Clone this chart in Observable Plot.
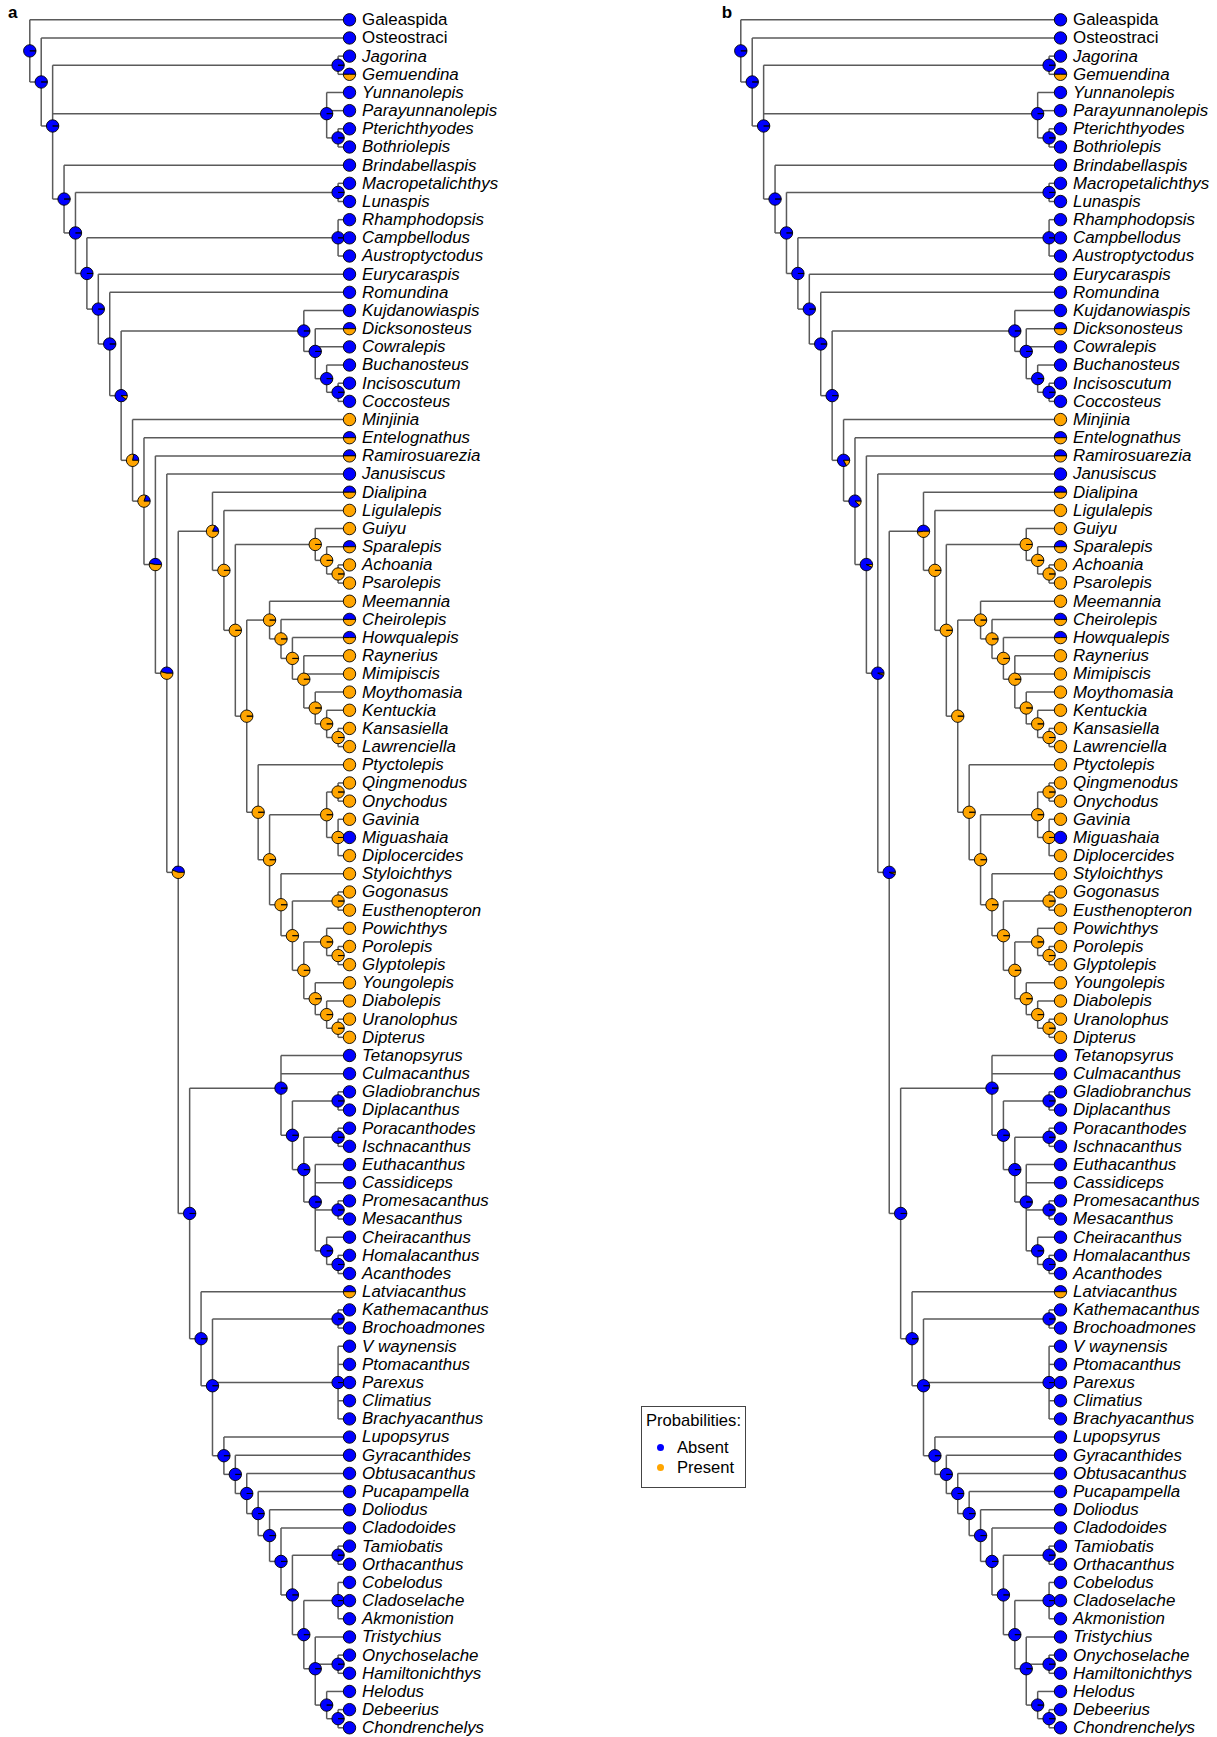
<!DOCTYPE html>
<html>
<head>
<meta charset="utf-8">
<script src="https://cdn.jsdelivr.net/npm/d3@7"></script>
<script src="https://cdn.jsdelivr.net/npm/@observablehq/plot@0.6"></script>
<style>
  body { margin: 0; background: #fff; }
  #wrap { position: relative; width: 1217px; height: 1737px; font-family: "Liberation Sans", Arial, Helvetica, sans-serif; }
  #legend { position: absolute; left: 641px; top: 1406px; width: 103px; height: 80px; border: 1.5px solid #444; background: #fff; }
  #legend .t { position: absolute; font-size: 16.6px; line-height: 16.6px; white-space: nowrap; color: #000; }
  #legend .d { position: absolute; width: 7px; height: 7px; border-radius: 50%; }
</style>
</head>
<body>
<div id="wrap"></div>
<script>
// ---------- DATA ----------
const panels = ["a", "b"];
const stateNames = ["Absent", "Present"];
const stateColors = ["blue", "orange"];
const legendTitle = "Probabilities:";

const tipNames = [
  "Galeaspida","Osteostraci","Jagorina","Gemuendina","Yunnanolepis","Parayunnanolepis","Pterichthyodes","Bothriolepis",
  "Brindabellaspis","Macropetalichthys","Lunaspis","Rhamphodopsis","Campbellodus","Austroptyctodus","Eurycaraspis","Romundina",
  "Kujdanowiaspis","Dicksonosteus","Cowralepis","Buchanosteus","Incisoscutum","Coccosteus","Minjinia","Entelognathus",
  "Ramirosuarezia","Janusiscus","Dialipina","Ligulalepis","Guiyu","Sparalepis","Achoania","Psarolepis",
  "Meemannia","Cheirolepis","Howqualepis","Raynerius","Mimipiscis","Moythomasia","Kentuckia","Kansasiella",
  "Lawrenciella","Ptyctolepis","Qingmenodus","Onychodus","Gavinia","Miguashaia","Diplocercides","Styloichthys",
  "Gogonasus","Eusthenopteron","Powichthys","Porolepis","Glyptolepis","Youngolepis","Diabolepis","Uranolophus",
  "Dipterus","Tetanopsyrus","Culmacanthus","Gladiobranchus","Diplacanthus","Poracanthodes","Ischnacanthus","Euthacanthus",
  "Cassidiceps","Promesacanthus","Mesacanthus","Cheiracanthus","Homalacanthus","Acanthodes","Latviacanthus","Kathemacanthus",
  "Brochoadmones","V waynensis","Ptomacanthus","Parexus","Climatius","Brachyacanthus","Lupopsyrus","Gyracanthides",
  "Obtusacanthus","Pucapampella","Doliodus","Cladodoides","Tamiobatis","Orthacanthus","Cobelodus","Cladoselache",
  "Akmonistion","Tristychius","Onychoselache","Hamiltonichthys","Helodus","Debeerius","Chondrenchelys"
];
const uprightTips = ["Galeaspida", "Osteostraci"];

// probability of "Absent" (blue) at each tip, same order as tipNames
const tipProb = [
  1,1,1,0.5,1,1,1,1,
  1,1,1,1,1,1,1,1,
  1,0.5,1,1,1,1,0,0.5,
  0.5,1,0.5,0,0,0.5,0,0,
  0,0.5,0.5,0,0,0,0,0,
  0,0,0,0,0,1,0,0,
  0,0,0,0,0,0,0,0,
  0,1,1,1,1,1,1,1,
  1,1,1,1,1,1,0.5,1,
  1,1,1,1,1,1,1,1,
  1,1,1,1,1,1,1,1,
  1,1,1,1,1,1,1
];

// topology (Newick pieces)
const nwActinopterygii = "(Meemannia,(Cheirolepis,(Howqualepis,(Raynerius,Mimipiscis,(Moythomasia,(Kentuckia,(Kansasiella,Lawrenciella)))))))";
const nwCoelacanths = "((Qingmenodus,Onychodus),(Gavinia,Miguashaia,Diplocercides))";
const nwRhipidistia = "(Styloichthys,((Gogonasus,Eusthenopteron),((Powichthys,(Porolepis,Glyptolepis)),(Youngolepis,(Diabolepis,(Uranolophus,Dipterus))))))";
const nwOsteichthyes = "(Dialipina,(Ligulalepis,((Guiyu,(Sparalepis,(Achoania,Psarolepis))),(" + nwActinopterygii + ",(Ptyctolepis,(" + nwCoelacanths + "," + nwRhipidistia + "))))))";
const nwAcanthodii = "(Tetanopsyrus,Culmacanthus,((Gladiobranchus,Diplacanthus),((Poracanthodes,Ischnacanthus),(Euthacanthus,Cassidiceps,(Promesacanthus,Mesacanthus),(Cheiracanthus,(Homalacanthus,Acanthodes))))))";
const nwChondrichthyes = "(Latviacanthus,((Kathemacanthus,Brochoadmones),(V waynensis,Ptomacanthus,Parexus,Climatius,Brachyacanthus),(Lupopsyrus,(Gyracanthides,(Obtusacanthus,(Pucapampella,(Doliodus,(Cladodoides,((Tamiobatis,Orthacanthus),((Cobelodus,Cladoselache,Akmonistion),(Tristychius,(Onychoselache,Hamiltonichthys),(Helodus,(Debeerius,Chondrenchelys)))))))))))))";
const nwPlacoderms = "(Galeaspida,(Osteostraci,((Jagorina,Gemuendina),(Yunnanolepis,Parayunnanolepis,(Pterichthyodes,Bothriolepis)),(Brindabellaspis,((Macropetalichthys,Lunaspis),((Rhamphodopsis,Campbellodus,Austroptyctodus),(Eurycaraspis,(Romundina,((Kujdanowiaspis,(Dicksonosteus,Cowralepis,(Buchanosteus,(Incisoscutum,Coccosteus)))),(Minjinia,(Entelognathus,(Ramirosuarezia,(Janusiscus,(";
const topology = nwPlacoderms + nwOsteichthyes + ",(" + nwAcanthodii + "," + nwChondrichthyes + "))))))))))))))))";

// probability of "Absent" (blue) at internal nodes, preorder
const nodeProbA = [
  1,1,1,1,1,1,1,1,1,1,1,1,1,
  0.9,1,1,1,1,
  0.22,0.2,0.47,0.46,0.44,0.18,
  0,0,0,0,0,0,0,0,0,0,0,0,0,0,0,0,0,0,0,0,0,0,0,0,0,0,0,
  1,1,1,1,1,1,1,1,1,1,1,1,1,1,1,1,1,1,1,1,1,1,1,1,1,1,1,1
];
const nodeProbB = [
  1,1,1,1,1,1,1,1,1,1,1,1,1,
  1,1,1,1,1,
  0.83,0.88,0.93,0.95,0.95,0.52,
  0,0,0,0,0,0,0,0,0,0,0,0,0,0,0,0,0,0,0,0,0,0,0,0,0,0,0,
  1,1,1,1,1,1,1,1,1,1,1,1,1,1,1,1,1,1,1,1,1,1,1,1,1,1,1,1
];
const nodeProbs = {a: nodeProbA, b: nodeProbB};

// ---------- TREE LAYOUT ----------
function parseNewick(str) {
  const tokens = str.match(/[(),]|[^(),]+/g).map(t => t.trim()).filter(t => t.length);
  let pos = 0, pre = 0;
  function node() {
    if (tokens[pos] === "(") {
      pos++;
      const n = {children: [], pre: pre++};
      n.children.push(node());
      while (tokens[pos] === ",") { pos++; n.children.push(node()); }
      if (tokens[pos] !== ")") throw new Error("bad newick at " + pos);
      pos++;
      return n;
    }
    return {name: tokens[pos++]};
  }
  const root = node();
  return {root, nInternal: pre};
}
const {root, nInternal} = parseNewick(topology);

function measure(n) {
  if (!n.children) {
    n.y = tipNames.indexOf(n.name);
    if (n.y < 0) throw new Error("unknown tip " + n.name);
    n.h = 0;
    return;
  }
  n.children.forEach(measure);
  n.h = 1 + d3.max(n.children, c => c.h);
  n.y = d3.mean(n.children, c => c.y);
}
measure(root);
const maxH = root.h;
const allNodes = [];
(function walk(n) { n.x = maxH - n.h; allNodes.push(n); if (n.children) n.children.forEach(walk); })(root);

const edges = [], pieSlices = [], labels = [];
function slicesOf(p, isTip) {
  if (isTip && (p === 1 || p === 0)) return [{color: p === 1 ? stateColors[0] : stateColors[1], f0: null, f1: null}];
  const out = [];
  if (p > 0) out.push({color: stateColors[0], f0: 0, f1: p});
  if (p < 1) out.push({color: stateColors[1], f0: p, f1: 1});
  return out;
}
for (const tree of panels) {
  for (const n of allNodes) {
    const isTip = !n.children;
    if (!isTip) {
      const ys = n.children.map(c => c.y);
      edges.push({tree, x1: n.x, x2: n.x, y1: d3.min(ys), y2: d3.max(ys)});
      for (const c of n.children) edges.push({tree, x1: n.x, x2: c.x, y1: c.y, y2: c.y});
    }
    const p = isTip ? tipProb[n.y] : nodeProbs[tree][n.pre];
    for (const s of slicesOf(p, isTip)) pieSlices.push({tree, x: n.x, y: n.y, isTip, ...s});
    if (isTip) labels.push({tree, x: n.x, y: n.y, name: n.name, upright: uprightTips.includes(n.name)});
  }
}

function wedge(f0, f1) {
  return {
    draw(ctx, size) {
      const r = Math.sqrt(size / Math.PI);
      ctx.moveTo(0, 0);
      ctx.arc(0, 0, r, -f0 * 2 * Math.PI, -f1 * 2 * Math.PI, true);
      ctx.closePath();
    }
  };
}

const pieR = 6.2;
const groups = d3.groups(pieSlices, d => `${d.isTip ? 1 : 0}|${d.color}|${d.f0}|${d.f1}`)
  .sort((a, b) => d3.ascending(a[0], b[0]));
const pieMarks = groups.map(([key, rows]) => {
  const d = rows[0];
  return Plot.dot(rows, {
    fx: "tree", x: "x", y: "y", r: pieR,
    fill: d.color, stroke: "black", strokeWidth: 0.9,
    symbol: d.f0 === null ? "circle" : wedge(d.f0, d.f1)
  });
});

const font = "'Liberation Sans', Arial, Helvetica, sans-serif";
const labelSize = 16.9;
const chart = Plot.plot({
  width: 1217,
  height: 1737,
  margin: 0,
  style: {background: "white", fontFamily: font},
  fx: {domain: panels, range: [0, 1422], padding: 0, axis: null, label: null},
  x: {domain: [0, maxH], range: [29.3, 349], axis: null},
  y: {domain: [0, tipNames.length - 1], range: [19.3, 1727.3], axis: null},
  marks: [
    Plot.link(edges, {fx: "tree", x1: "x1", y1: "y1", x2: "x2", y2: "y2", stroke: "#5a5a5a", strokeWidth: 1.5}),
    ...pieMarks,
    Plot.text(labels.filter(d => d.upright), {fx: "tree", x: "x", y: "y", text: "name", dx: 12.5, textAnchor: "start", fontSize: labelSize, fontFamily: font, fill: "black"}),
    Plot.text(labels.filter(d => !d.upright), {fx: "tree", x: "x", y: "y", text: "name", dx: 12.5, textAnchor: "start", fontSize: labelSize, fontFamily: font, fontStyle: "italic", fill: "black"}),
    Plot.text([{tree: "a"}], {fx: "tree", text: d => d.tree, frameAnchor: "top-left", dx: 7.5, dy: 17, textAnchor: "start", lineAnchor: "bottom", fontWeight: "bold", fontSize: 17, fontFamily: font}),
    Plot.text([{tree: "b"}], {fx: "tree", text: d => d.tree, frameAnchor: "top-left", dx: 10.3, dy: 17, textAnchor: "start", lineAnchor: "bottom", fontWeight: "bold", fontSize: 17, fontFamily: font})
  ]
});
const wrap = document.getElementById("wrap");
wrap.appendChild(chart);

// ---------- LEGEND ----------
const legend = document.createElement("div");
legend.id = "legend";
const title = document.createElement("div");
title.className = "t";
title.textContent = legendTitle;
title.style.left = "4px";
title.style.top = "6px";
legend.appendChild(title);
stateNames.forEach((name, i) => {
  const dot = document.createElement("div");
  dot.className = "d";
  dot.style.background = stateColors[i];
  dot.style.left = "14.5px";
  dot.style.top = (36.5 + i * 20.5) + "px";
  legend.appendChild(dot);
  const t = document.createElement("div");
  t.className = "t";
  t.textContent = name;
  t.style.left = "35px";
  t.style.top = (33 + i * 20) + "px";
  legend.appendChild(t);
});
wrap.appendChild(legend);
</script>
</body>
</html>
